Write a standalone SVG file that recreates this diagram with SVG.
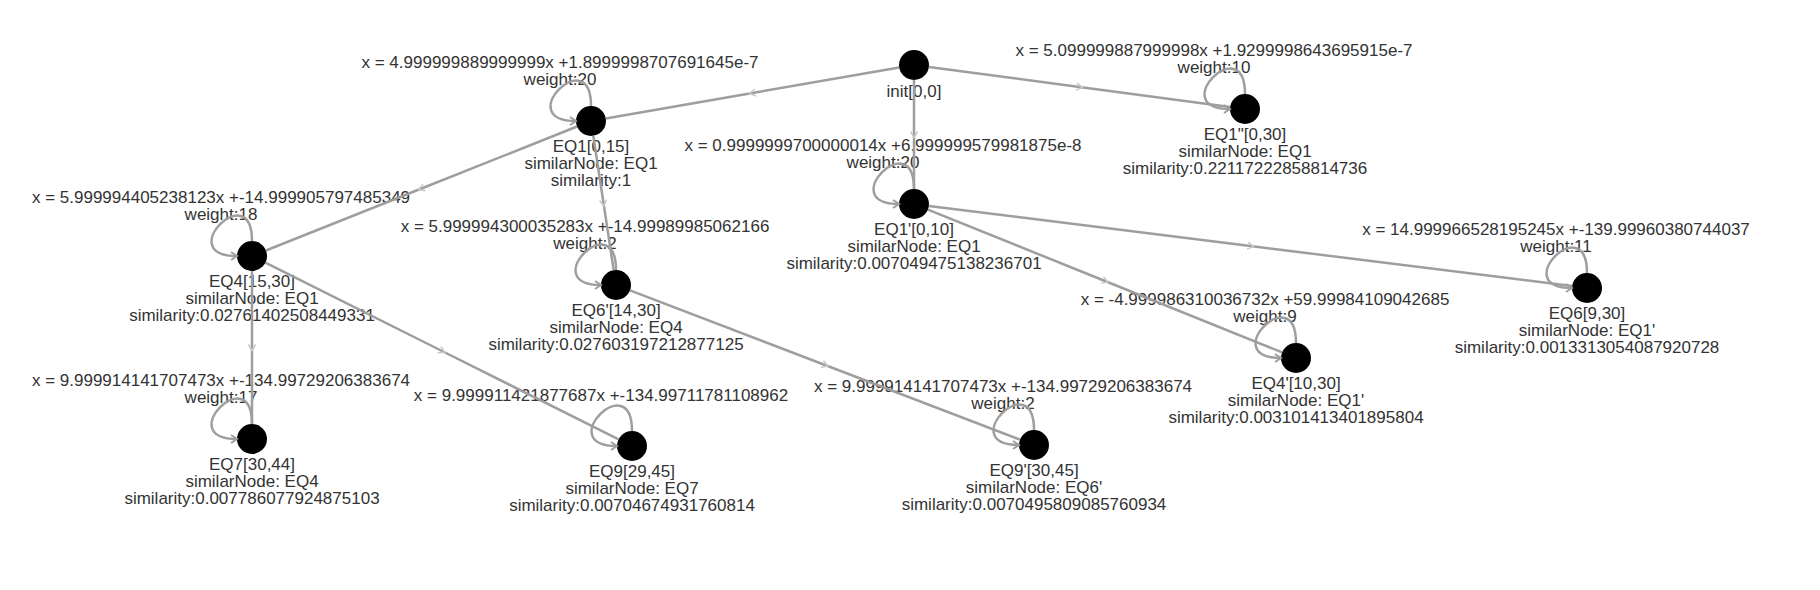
<svg xmlns="http://www.w3.org/2000/svg" width="1820" height="590" viewBox="0 0 1820 590">
<style>
.lbl{font-family:"Liberation Sans",Arial,sans-serif;font-size:17px;fill:#333;text-anchor:middle}
.node{fill:#000}
.edge{stroke:#9e9e9e;stroke-width:2.5;fill:none;marker-mid:url(#mid)}
.loop{stroke:#9e9e9e;stroke-width:2.5;fill:none;marker-end:url(#loopEnd)}
</style>
<defs>
<marker id="mid" viewBox="-6 -6 12 12" markerWidth="12" markerHeight="12" orient="auto" markerUnits="userSpaceOnUse">
<path d="M-3,-3.5 L3,0 L-3,3.5" fill="none" stroke="#c8c8c8" stroke-width="1.5"/>
</marker>
<marker id="loopEnd" viewBox="-8 -6 10 12" markerWidth="10" markerHeight="12" orient="auto" markerUnits="userSpaceOnUse">
<path d="M-6,-4 L0,0 L-6,4" fill="none" stroke="#9e9e9e" stroke-width="2"/>
</marker>
</defs>
<rect width="1820" height="590" fill="#fff"/>

<g id="node-init"><circle class="node" cx="914" cy="65" r="15"/><text class="lbl" x="914" y="97">init[0,0]</text></g>
<g id="node-EQ1"><circle class="node" cx="591" cy="121" r="15"/><text class="lbl" x="591" y="152">EQ1[0,15]</text><text class="lbl" x="591" y="169">similarNode: EQ1</text><text class="lbl" x="591" y="186">similarity:1</text></g>
<g id="node-EQ1pp"><circle class="node" cx="1245" cy="109" r="15"/><text class="lbl" x="1245" y="140">EQ1"[0,30]</text><text class="lbl" x="1245" y="157">similarNode: EQ1</text><text class="lbl" x="1245" y="174">similarity:0.22117222858814736</text></g>
<g id="node-EQ1p"><circle class="node" cx="914" cy="204" r="15"/><text class="lbl" x="914" y="235">EQ1'[0,10]</text><text class="lbl" x="914" y="252">similarNode: EQ1</text><text class="lbl" x="914" y="269">similarity:0.007049475138236701</text></g>
<g id="node-EQ4"><circle class="node" cx="252" cy="256" r="15"/><text class="lbl" x="252" y="287">EQ4[15,30]</text><text class="lbl" x="252" y="304">similarNode: EQ1</text><text class="lbl" x="252" y="321">similarity:0.02761402508449331</text></g>
<g id="node-EQ6p"><circle class="node" cx="616" cy="285" r="15"/><text class="lbl" x="616" y="316">EQ6'[14,30]</text><text class="lbl" x="616" y="333">similarNode: EQ4</text><text class="lbl" x="616" y="350">similarity:0.027603197212877125</text></g>
<g id="node-EQ6"><circle class="node" cx="1587" cy="288" r="15"/><text class="lbl" x="1587" y="319">EQ6[9,30]</text><text class="lbl" x="1587" y="336">similarNode: EQ1'</text><text class="lbl" x="1587" y="353">similarity:0.0013313054087920728</text></g>
<g id="node-EQ4p"><circle class="node" cx="1296" cy="358" r="15"/><text class="lbl" x="1296" y="389">EQ4'[10,30]</text><text class="lbl" x="1296" y="406">similarNode: EQ1'</text><text class="lbl" x="1296" y="423">similarity:0.003101413401895804</text></g>
<g id="node-EQ7"><circle class="node" cx="252" cy="439" r="15"/><text class="lbl" x="252" y="470">EQ7[30,44]</text><text class="lbl" x="252" y="487">similarNode: EQ4</text><text class="lbl" x="252" y="504">similarity:0.007786077924875103</text></g>
<g id="node-EQ9"><circle class="node" cx="632" cy="446" r="15"/><text class="lbl" x="632" y="477">EQ9[29,45]</text><text class="lbl" x="632" y="494">similarNode: EQ7</text><text class="lbl" x="632" y="511">similarity:0.00704674931760814</text></g>
<g id="node-EQ9p"><circle class="node" cx="1034" cy="445" r="15"/><text class="lbl" x="1034" y="476">EQ9'[30,45]</text><text class="lbl" x="1034" y="493">similarNode: EQ6'</text><text class="lbl" x="1034" y="510">similarity:0.0070495809085760934</text></g>

<g id="edge-labels">
<text class="lbl" x="560" y="68">x = 4.999999889999999x +1.8999998707691645e-7</text><text class="lbl" x="560" y="85">weight:20</text>
<text class="lbl" x="1214" y="56">x = 5.099999887999998x +1.9299998643695915e-7</text><text class="lbl" x="1214" y="73">weight:10</text>
<text class="lbl" x="883" y="151">x = 0.9999999700000014x +6.999999579981875e-8</text><text class="lbl" x="883" y="168">weight:20</text>
<text class="lbl" x="221" y="203">x = 5.999994405238123x +-14.999905797485349</text><text class="lbl" x="221" y="220">weight:18</text>
<text class="lbl" x="585" y="232">x = 5.999994300035283x +-14.99989985062166</text><text class="lbl" x="585" y="249">weight:2</text>
<text class="lbl" x="1556" y="235">x = 14.999966528195245x +-139.99960380744037</text><text class="lbl" x="1556" y="252">weight:11</text>
<text class="lbl" x="1265" y="305">x = -4.999986310036732x +59.99984109042685</text><text class="lbl" x="1265" y="322">weight:9</text>
<text class="lbl" x="221" y="386">x = 9.999914141707473x +-134.99729206383674</text><text class="lbl" x="221" y="403">weight:17</text>
<text class="lbl" x="601" y="401">x = 9.999911421877687x +-134.99711781108962</text>
<text class="lbl" x="1003" y="392">x = 9.999914141707473x +-134.99729206383674</text><text class="lbl" x="1003" y="409">weight:2</text>
</g>

<g id="connectors">
<polyline class="edge" points="899.2,67.6 752.5,93 605.8,118.4"/>
<polyline class="edge" points="928.9,67 1079.5,87 1230.1,107"/>
<polyline class="edge" points="914,80 914,134.5 914,189"/>
<polyline class="edge" points="577.1,126.5 421.5,188.5 265.9,250.5"/>
<polyline class="edge" points="593.3,135.8 603.5,203 613.7,270.2"/>
<polyline class="edge" points="928.9,205.9 1250.5,246 1572.1,286.1"/>
<polyline class="edge" points="927.9,209.6 1105,281 1282.1,352.4"/>
<polyline class="edge" points="252,271 252,347.5 252,424"/>
<polyline class="edge" points="265.4,262.7 442,351 618.6,439.3"/>
<polyline class="edge" points="630,290.4 825,365 1020,439.6"/>
<path class="loop" d="M591,106 C591,41 511,121 576,121"/>
<path class="loop" d="M1245,94 C1245,29 1165,109 1230,109"/>
<path class="loop" d="M914,189 C914,124 834,204 899,204"/>
<path class="loop" d="M252,241 C252,176 172,256 237,256"/>
<path class="loop" d="M616,270 C616,205 536,285 601,285"/>
<path class="loop" d="M1587,273 C1587,208 1507,288 1572,288"/>
<path class="loop" d="M1296,343 C1296,278 1216,358 1281,358"/>
<path class="loop" d="M252,424 C252,359 172,439 237,439"/>
<path class="loop" d="M632,431 C632,366 552,446 617,446"/>
<path class="loop" d="M1034,430 C1034,365 954,445 1019,445"/>
</g>
</svg>
